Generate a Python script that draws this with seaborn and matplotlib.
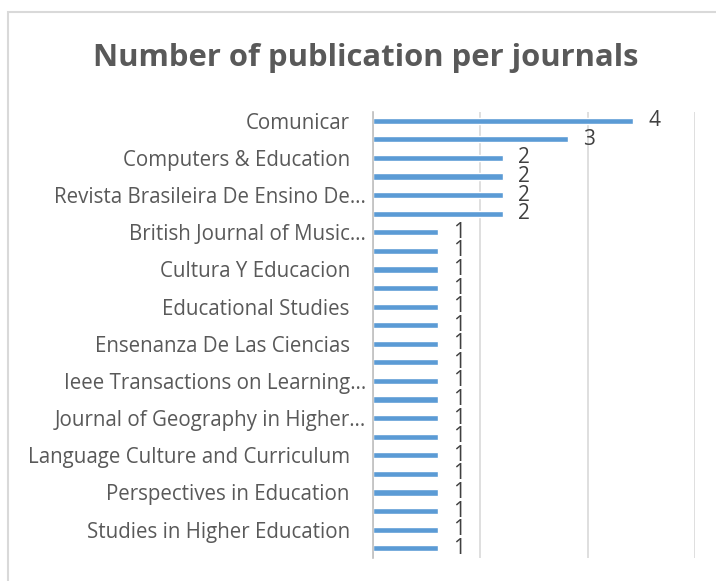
import numpy as np
import pandas as pd
import matplotlib
matplotlib.use('Agg')
import matplotlib.pyplot as plt
import matplotlib.transforms as mtransforms
import seaborn as sns
from matplotlib.patches import Rectangle

# number of publications per journal, top to bottom (24 journals)
counts = [4, 3, 2, 2, 2, 2,
          1, 1, 1, 1, 1, 1, 1, 1, 1, 1, 1, 1, 1, 1, 1, 1, 1, 1]
# only every second journal name is printed on the axis
shown_labels = ['Comunicar', 'Computers & Education', 'Revista Brasileira De Ensino De…',
                'British Journal of Music…', 'Cultura Y Educacion', 'Educational Studies',
                'Ensenanza De Las Ciencias', 'Ieee Transactions on Learning…',
                'Journal of Geography in Higher…', 'Language Culture and Curriculum',
                'Perspectives in Education', 'Studies in Higher Education']
title = 'Number of publication per journals'

df = pd.DataFrame({'row': np.arange(len(counts)), 'n': counts})

sns.set_theme(style='white')
plt.rcParams['font.family'] = ['Open Sans', 'DejaVu Sans']

fig = plt.figure(figsize=(7.16, 5.81), dpi=100)
ax = fig.add_axes([372.7 / 716, 1 - 557.5 / 581, (695 - 372.7) / 716, (557.5 - 111.5) / 581])

sns.barplot(data=df, x='n', y='row', orient='h', color='#5B9BD5', width=0.33,
            saturation=1, ax=ax)

ax.set_xlim(0, 4.95)
ax.set_xticks([0, 1.65, 3.3, 4.95])
ax.set_xticklabels([])
ax.xaxis.grid(True, color='#D9D9D9', linewidth=1.2)
ax.set_axisbelow(True)
ax.tick_params(axis='both', length=0)
ax.set_xlabel('')
ax.set_ylabel('')

ax.set_yticks(np.arange(0, len(counts), 2))
ax.set_yticklabels(shown_labels, fontsize=14.8, color='#595959')
ax.tick_params(axis='y', pad=5)
for lab in ax.get_yticklabels():
    if not lab.get_text().endswith('…'):
        lab.set_transform(lab.get_transform() +
                          mtransforms.ScaledTranslation(-16 / 100, 0, fig.dpi_scale_trans))

for s in ['top', 'right', 'bottom']:
    ax.spines[s].set_visible(False)
ax.spines['left'].set_color('#BFBFBF')
ax.spines['left'].set_linewidth(1.2)

for c in ax.containers:
    txts = ax.bar_label(c, labels=[str(v) for v in counts], padding=11, fontsize=15,
                        color='#404040')
    for t in txts:
        t.set_va('center')

fig.text(366 / 716, 1 - 66 / 581, title, ha='center', va='baseline',
         fontsize=22.3, fontweight='bold', color='#595959')

# chart frame
fig.patches.append(Rectangle((8 / 716, -0.05), 1.0, 1 - 12 / 581 + 0.05,
                             transform=fig.transFigure, fill=False,
                             edgecolor='#D9D9D9', linewidth=1.5))

fig.savefig('out.png', dpi=100)
